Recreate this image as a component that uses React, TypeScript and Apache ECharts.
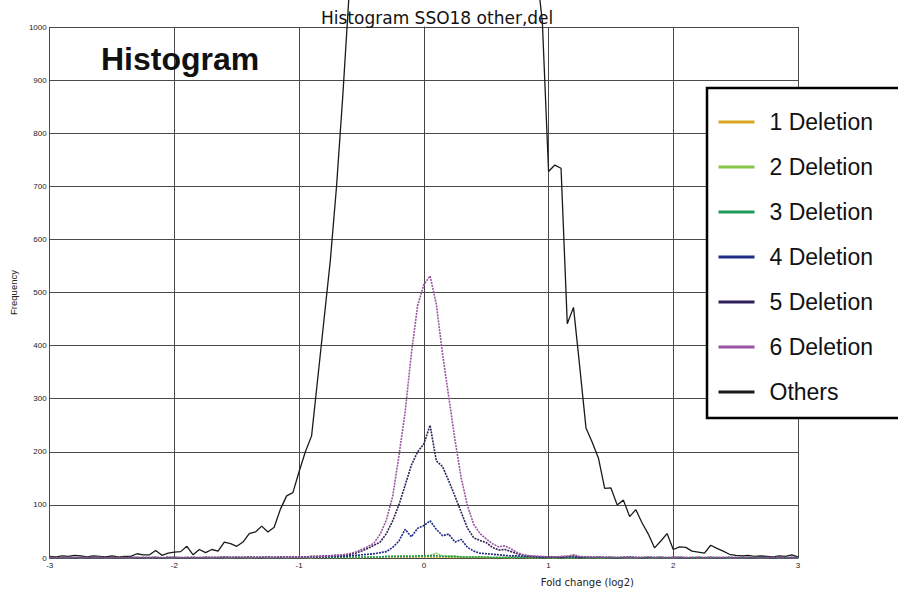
import React, { useEffect, useRef } from "react";
import * as echarts from "echarts";

// Bin centres of the fold-change axis (log2), 0.05 wide, from -3 to 3
const binStart = -3;
const binStep = 0.05;
const binCount = 121;
const fold: number[] = Array.from({ length: binCount }, (_, i) => +(binStart + i * binStep).toFixed(2));

const xTicks = [-3, -2, -1, 0, 1, 2, 3];
const yTicks = [0, 100, 200, 300, 400, 500, 600, 700, 800, 900, 1000];

const seriesNames = ["1 Deletion", "2 Deletion", "3 Deletion", "4 Deletion", "5 Deletion", "6 Deletion", "Others"];

// Frequencies (index i -> fold = -3 + 0.05 i)
const del1 = [
  1, 0, 1, 1, 0, 1, 1, 0, 1, 1, 0, 1, 1, 0, 1, 1, 0, 1, 0, 1,
  1, 0, 1, 1, 0, 1, 0, 1, 1, 0, 1, 1, 0, 1, 1, 0, 1, 1, 0, 1,
  1, 1, 0, 1, 1, 1, 1, 1, 1, 1, 1, 1, 1, 1, 2, 1, 1, 2, 1, 2,
  2, 2, 1, 2, 1, 1, 1, 1, 1, 1, 1, 1, 1, 1, 0, 1, 1, 0, 1, 1,
  1, 0, 1, 1, 0, 1, 1, 0, 1, 0, 1, 1, 0, 1, 0, 1, 1, 0, 1, 0,
  1, 1, 0, 1, 0, 1, 1, 0, 1, 0, 1, 0, 1, 1, 0, 1, 0, 1, 1, 0, 1,
];
const del2 = [
  0, 0, 1, 0, 0, 1, 0, 0, 1, 0, 0, 1, 0, 0, 1, 0, 0, 1, 0, 0,
  1, 0, 0, 1, 0, 1, 0, 0, 1, 0, 1, 0, 1, 0, 1, 1, 0, 1, 1, 1,
  1, 1, 1, 1, 1, 1, 1, 1, 1, 1, 1, 2, 2, 2, 2, 3, 3, 4, 3, 3,
  4, 5, 9, 4, 3, 3, 2, 2, 2, 2, 1, 1, 1, 1, 1, 1, 1, 1, 0, 1,
  1, 0, 1, 0, 1, 1, 0, 1, 0, 0, 1, 0, 1, 0, 0, 1, 0, 0, 1, 0,
  0, 1, 0, 0, 1, 0, 0, 1, 0, 0, 1, 0, 0, 1, 0, 0, 1, 0, 0, 1, 0,
];
const del3 = [
  0, 1, 0, 0, 1, 0, 0, 1, 0, 0, 1, 0, 0, 1, 0, 0, 1, 0, 0, 1,
  0, 0, 1, 0, 0, 1, 0, 1, 0, 1, 0, 1, 0, 1, 1, 0, 1, 1, 0, 1,
  1, 1, 1, 1, 1, 1, 1, 1, 2, 2, 2, 2, 2, 2, 3, 3, 3, 3, 3, 4,
  4, 4, 4, 3, 3, 3, 2, 2, 2, 2, 2, 1, 1, 1, 1, 1, 1, 1, 1, 1,
  0, 1, 0, 1, 0, 1, 0, 0, 1, 0, 1, 0, 0, 1, 0, 0, 1, 0, 1, 0,
  0, 1, 0, 0, 1, 0, 1, 0, 0, 1, 0, 0, 1, 0, 1, 0, 0, 1, 0, 0, 1,
];
const del4 = [
  0, 1, 0, 1, 0, 1, 0, 1, 0, 1, 0, 1, 0, 1, 0, 1, 0, 1, 0, 1,
  1, 0, 1, 1, 0, 1, 1, 0, 1, 1, 1, 1, 1, 1, 1, 1, 1, 1, 1, 1,
  1, 2, 2, 2, 2, 3, 3, 3, 4, 5, 6, 7, 8, 10, 12, 20, 32, 54, 40, 56,
  61, 70, 54, 42, 45, 30, 35, 20, 13, 9, 8, 7, 6, 5, 4, 4, 3, 3, 2, 2,
  2, 1, 1, 2, 2, 1, 1, 1, 1, 1, 1, 0, 1, 1, 1, 0, 1, 1, 1, 0,
  1, 1, 0, 1, 1, 0, 1, 1, 0, 1, 0, 1, 1, 0, 1, 1, 0, 1, 0, 1, 1,
];
const del5 = [
  1, 0, 1, 1, 0, 1, 1, 0, 1, 1, 1, 0, 1, 1, 1, 0, 1, 1, 0, 1,
  1, 1, 0, 1, 1, 1, 1, 1, 2, 1, 1, 1, 2, 1, 1, 2, 1, 2, 2, 2,
  2, 2, 3, 3, 4, 4, 5, 5, 6, 9, 13, 18, 24, 30, 46, 70, 100, 137, 175, 200,
  215, 250, 183, 172, 145, 116, 86, 56, 38, 33, 29, 20, 15, 16, 12, 8, 5, 3, 3, 2,
  2, 2, 2, 3, 4, 2, 2, 1, 2, 1, 1, 1, 1, 2, 1, 1, 1, 1, 1, 1,
  1, 1, 1, 0, 1, 1, 1, 0, 1, 1, 1, 1, 0, 1, 1, 1, 0, 1, 1, 1, 1,
];
const del6 = [
  1, 1, 0, 1, 1, 0, 1, 1, 1, 0, 1, 1, 0, 1, 1, 1, 0, 1, 1, 1,
  1, 1, 1, 0, 1, 1, 1, 1, 1, 1, 2, 1, 1, 1, 2, 1, 1, 2, 1, 2,
  2, 2, 2, 3, 3, 4, 5, 6, 8, 11, 16, 21, 28, 45, 72, 116, 192, 275, 385, 475,
  515, 531, 478, 384, 303, 222, 150, 98, 63, 46, 36, 27, 21, 23, 17, 10, 6, 4, 3, 3,
  2, 2, 3, 3, 6, 3, 2, 2, 1, 2, 1, 1, 2, 1, 1, 1, 2, 1, 1, 1,
  1, 1, 1, 1, 1, 0, 1, 1, 1, 1, 0, 1, 1, 1, 0, 1, 1, 1, 1, 0, 1,
];
const others = [
  3, 2, 4, 3, 5, 4, 2, 4, 3, 2, 4, 2, 3, 3, 8, 6, 6, 14, 5, 9,
  11, 12, 22, 6, 16, 10, 16, 13, 30, 27, 22, 30, 46, 49, 60, 49, 58, 92, 117, 123,
  163, 200, 230, 340, 450, 560, 700, 870, 1060, 1300, 1600, 1950, 2300, 2650, 2950, 3200, 3400, 3550, 3650, 3700,
  3720, 3700, 3620, 3480, 3300, 3080, 2820, 2550, 2280, 2020, 1780, 1580, 1420, 1300, 1220, 1170, 1140, 1125, 1116, 1010,
  728, 740, 734, 441, 472, 360, 245, 218, 188, 131, 132, 100, 109, 78, 91, 66, 45, 19, 32, 46,
  16, 21, 20, 13, 11, 9, 24, 18, 13, 7, 5, 4, 5, 3, 4, 3, 2, 4, 3, 6, 2,
];

const seriesValues = [del1, del2, del3, del4, del5, del6, others];
const seriesColors = ["#d9a622", "#86c44a", "#1c9a5a", "#1d2c86", "#2e2058", "#9a55a2", "#1a1a1a"];

export default function App() {
  const ref = useRef<HTMLDivElement>(null);

  useEffect(() => {
    if (!ref.current) return;
    const chart = echarts.init(ref.current, undefined, { renderer: "svg" });

    const series: any[] = seriesNames.map((name, k) => {
      const isOthers = name === "Others";
      return {
        name,
        type: "line",
        data: fold.map((x, i) => [x, seriesValues[k][i]]),
        symbol: "none",
        clip: !isOthers,
        z: isOthers ? 2 : 3 + k,
        lineStyle: {
          color: seriesColors[k],
          width: isOthers ? 1.3 : 1.6,
          type: isOthers ? "solid" : [2, 1],
        },
        itemStyle: { color: seriesColors[k] },
      };
    });
    // draw Others underneath
    const ordered = [series[6], ...series.slice(0, 6)];

    chart.setOption({
      animation: false,
      backgroundColor: "#ffffff",
      title: {
        text: "Histogram SSO18 other,del",
        left: 316,
        top: 4,
        textStyle: { fontSize: 17, fontWeight: "normal", color: "#111", fontFamily: "DejaVu Sans" },
      },
      grid: { left: 45, right: 100, top: 27, bottom: 33, containLabel: false },
      xAxis: {
        type: "value",
        min: xTicks[0],
        max: xTicks[xTicks.length - 1],
        interval: 1,
        name: "Fold change (log2)",
        nameLocation: "middle",
        nameGap: 19,
        nameTextStyle: { fontSize: 10, color: "#222", fontFamily: "DejaVu Sans", padding: [0, 0, 0, 327] },
        axisLine: { show: true, lineStyle: { color: "#444", width: 1 } },
        axisTick: { show: false },
        axisLabel: { fontSize: 8, color: "#222", margin: 3, fontFamily: "Liberation Sans", formatter: (v: number) => String(v) },
        splitLine: { show: true, lineStyle: { color: "#4a4a4a", width: 1 } },
      },
      yAxis: {
        type: "value",
        min: yTicks[0],
        max: yTicks[yTicks.length - 1],
        interval: 100,
        name: "Frequency",
        nameLocation: "middle",
        nameGap: 30,
        nameRotate: 90,
        nameTextStyle: { fontSize: 9.5, color: "#222", fontFamily: "Liberation Sans" },
        axisLine: { show: true, lineStyle: { color: "#444", width: 1 } },
        axisTick: { show: false },
        axisLabel: { fontSize: 8, color: "#222", margin: 3, fontFamily: "Liberation Sans", formatter: (v: number) => String(v) },
        splitLine: { show: true, lineStyle: { color: "#4a4a4a", width: 1 } },
      },
      legend: {
        data: seriesNames,
        orient: "vertical",
        left: 707,
        top: 88,
        itemWidth: 36,
        itemHeight: 24,
        itemGap: 21,
        padding: [22, 40, 14, 10],
        backgroundColor: "#ffffff",
        borderColor: "#000",
        borderWidth: 2.5,
        lineStyle: { width: 3, type: "solid" },
        itemStyle: { color: "transparent", borderWidth: 0, opacity: 0 },
        textStyle: {
          fontSize: 23,
          lineHeight: 24,
          color: "#111",
          fontFamily: "Liberation Sans",
          padding: [0, 0, 0, 10],
        },
      },
      graphic: [
        {
          type: "text",
          x: 101,
          y: 59,
          z: 100,
          style: {
            text: "Histogram",
            fill: "#111",
            font: 'bold 32px "Liberation Sans", Arial, sans-serif',
            align: "left",
            verticalAlign: "middle",
          },
        },
      ],
      series: ordered,
    });

    return () => chart.dispose();
  }, []);

  return (
    <div
      ref={ref}
      style={{ position: "absolute", left: 0, top: 0, width: 898, height: 592 }}
    />
  );
}
